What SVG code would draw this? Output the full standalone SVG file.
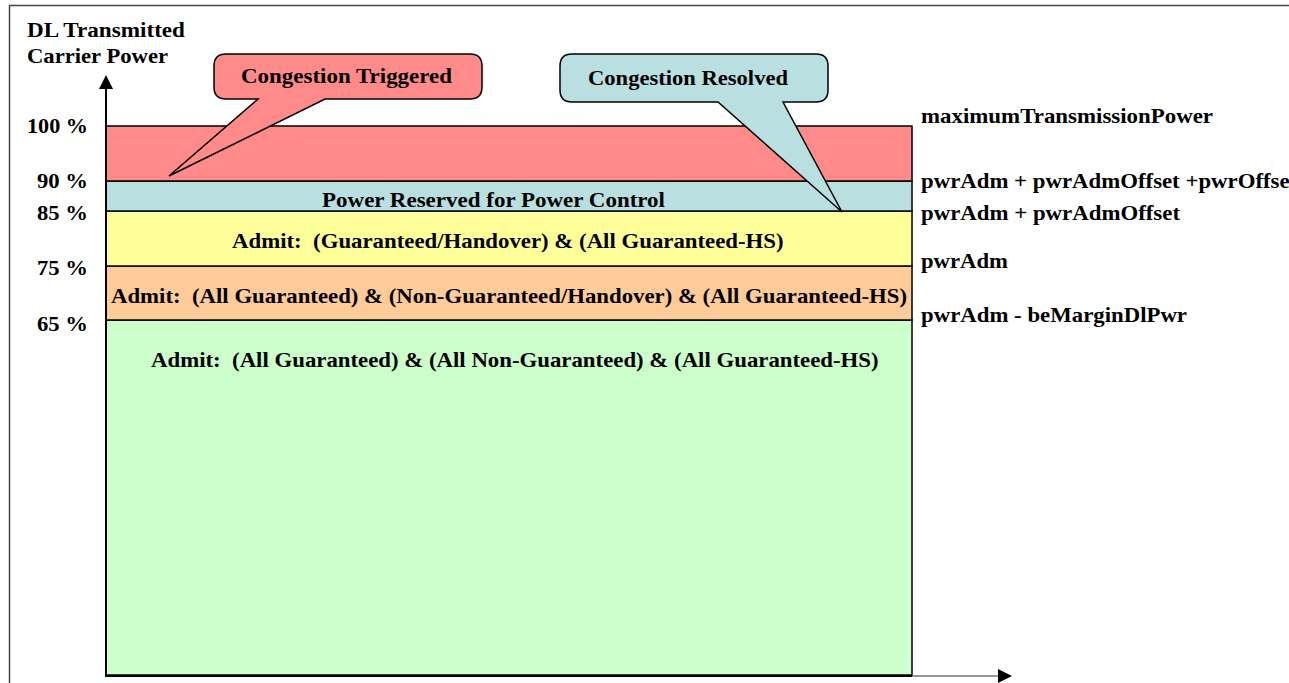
<svg xmlns="http://www.w3.org/2000/svg" width="1289" height="683" viewBox="0 0 1289 683">
<style>
text{font-family:"Liberation Serif","Times New Roman",Times,serif;font-weight:bold;font-size:22px;fill:#000;white-space:pre}
.band{stroke:#000;stroke-width:1.5}
.callout{stroke:#000;stroke-width:1.5;stroke-linejoin:miter}
.end{text-anchor:end}
</style>
<rect width="1289" height="683" fill="#fff"/>
<path d="M9.5,683 V5.5 H1289" fill="none" stroke="#444" stroke-width="1.5"/>

<g id="title">
<text x="27" y="37" textLength="158" lengthAdjust="spacingAndGlyphs">DL Transmitted</text>
<text x="27" y="63" textLength="141" lengthAdjust="spacingAndGlyphs">Carrier Power</text>
</g>

<g id="band-green"><rect class="band" x="106" y="320" width="806" height="355" fill="#CCFFCC"/>
<text x="151" y="367" textLength="727.6" lengthAdjust="spacingAndGlyphs">Admit:  (All Guaranteed) &amp; (All Non-Guaranteed) &amp; (All Guaranteed-HS)</text></g>
<g id="band-orange"><rect class="band" x="106" y="266" width="806" height="54" fill="#FFCC99"/>
<text x="111" y="303" textLength="796" lengthAdjust="spacingAndGlyphs">Admit:  (All Guaranteed) &amp; (Non-Guaranteed/Handover) &amp; (All Guaranteed-HS)</text></g>
<g id="band-yellow"><rect class="band" x="106" y="211" width="806" height="55" fill="#FFFF99"/>
<text x="232" y="248" textLength="551.6" lengthAdjust="spacingAndGlyphs">Admit:  (Guaranteed/Handover) &amp; (All Guaranteed-HS)</text></g>
<g id="band-blue"><rect class="band" x="106" y="181" width="806" height="30" fill="#B9DFE1"/>
<text x="322" y="207" textLength="343" lengthAdjust="spacingAndGlyphs">Power Reserved for Power Control</text></g>
<g id="band-red"><rect class="band" x="106" y="126" width="806" height="55" fill="#FF8A8A"/></g>

<g id="connectors">
<line x1="106" y1="676" x2="106" y2="88" stroke="#000" stroke-width="2"/>
<polygon points="106,75 99,89 113,89" fill="#000"/>
<line x1="105" y1="676" x2="912" y2="676" stroke="#000" stroke-width="2"/>
<line x1="912" y1="676" x2="999" y2="676" stroke="#333" stroke-width="1.2"/>
<polygon points="1012,676 998,669 998,683" fill="#000"/>
</g>

<g id="callout-triggered">
<path class="callout" fill="#FF8A8A" d="M226,54 H470 Q482,54 482,66 V87 Q482,99 470,99 H325 L169,176 L258,99 H226 Q214,99 214,87 V66 Q214,54 226,54 Z"/>
<text x="241" y="83" textLength="211" lengthAdjust="spacingAndGlyphs">Congestion Triggered</text>
</g>
<g id="callout-resolved">
<path class="callout" fill="#B9DFE1" d="M572,54 H816 Q828,54 828,66 V90 Q828,102 816,102 H783 L842,212 L718,102 H572 Q560,102 560,90 V66 Q560,54 572,54 Z"/>
<text x="588" y="85" textLength="200" lengthAdjust="spacingAndGlyphs">Congestion Resolved</text>
</g>

<g id="percent-labels">
<text class="end" x="88" y="133" textLength="61" lengthAdjust="spacingAndGlyphs">100 %</text>
<text class="end" x="88" y="188" textLength="51" lengthAdjust="spacingAndGlyphs">90 %</text>
<text class="end" x="88" y="220" textLength="51" lengthAdjust="spacingAndGlyphs">85 %</text>
<text class="end" x="88" y="275" textLength="51" lengthAdjust="spacingAndGlyphs">75 %</text>
<text class="end" x="88" y="331" textLength="51" lengthAdjust="spacingAndGlyphs">65 %</text>
</g>

<g id="threshold-labels">
<text x="921" y="123" textLength="292" lengthAdjust="spacingAndGlyphs">maximumTransmissionPower</text>
<text x="921" y="188" textLength="368.6" lengthAdjust="spacingAndGlyphs">pwrAdm + pwrAdmOffset +pwrOffse</text>
<text x="921" y="220" textLength="259" lengthAdjust="spacingAndGlyphs">pwrAdm + pwrAdmOffset</text>
<text x="921" y="268" textLength="87" lengthAdjust="spacingAndGlyphs">pwrAdm</text>
<text x="921" y="322" textLength="266" lengthAdjust="spacingAndGlyphs">pwrAdm - beMarginDlPwr</text>
</g>
</svg>
